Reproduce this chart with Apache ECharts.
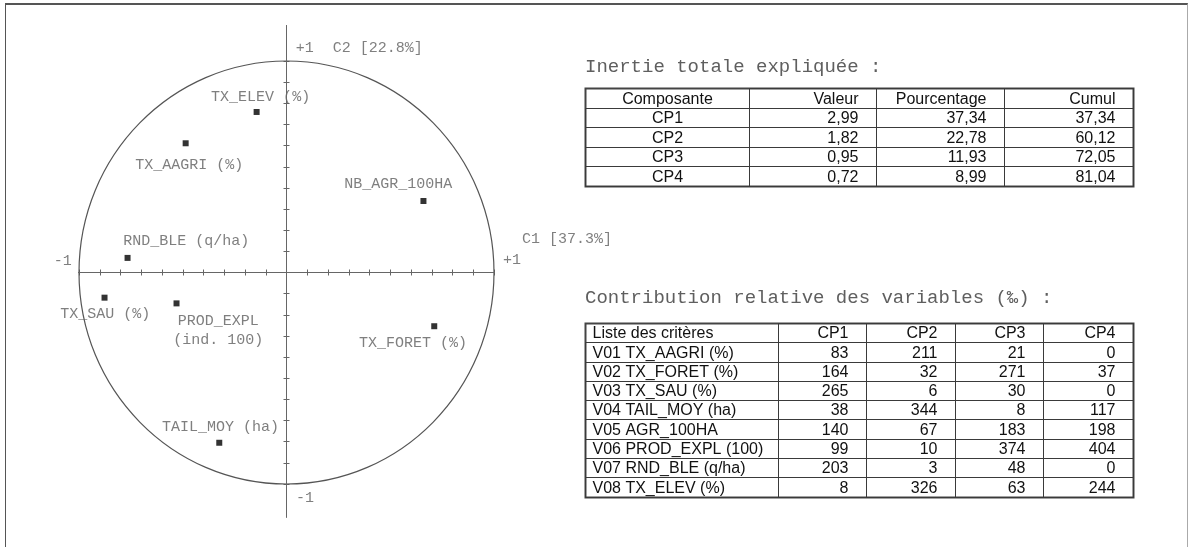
<!DOCTYPE html>
<html><head><meta charset="utf-8">
<script src="https://cdn.jsdelivr.net/npm/echarts@6/dist/echarts.min.js"></script>
<style>
html,body{margin:0;padding:0;background:#fff;overflow:hidden}
#chart{width:1189px;height:547px;position:absolute;left:0;top:0}
#frame{position:absolute;left:5px;top:3px;width:1181px;height:600px;border-left:1px solid #555;border-top:2px solid #555;border-right:1px solid #aaa;pointer-events:none}
</style></head><body>
<div id="chart"></div><div id="frame"></div>
<script>
// ---------------- data ----------------
const variableNames = ['TX_ELEV (%)','TX_AAGRI (%)','RND_BLE (q/ha)','NB_AGR_100HA','TX_SAU (%)','PROD_EXPL\n(ind. 100)','TAIL_MOY (ha)','TX_FORET (%)'];
const coordC1 = [-0.144,-0.486,-0.766,0.660,-0.877,-0.530,-0.324,0.712];
const coordC2 = [0.759,0.611,0.069,0.338,-0.119,-0.146,-0.805,-0.254];
const axisTitleC1 = 'C1 [37.3%]';
const axisTitleC2 = 'C2 [22.8%]';
const axisEndLabels = ['-1','+1','+1','-1'];
const axisEndPoints = [[-1,0],[1,0],[0,1],[0,-1]];

const inertieTitle = 'Inertie totale expliquée :';
const inertieHeaders = ['Composante','Valeur','Pourcentage','Cumul'];
const composantes = ['CP1','CP2','CP3','CP4'];
const valeurs = [2.99,1.82,0.95,0.72];
const pourcentages = [37.34,22.78,11.93,8.99];
const cumuls = [37.34,60.12,72.05,81.04];

const contribTitle = 'Contribution relative des variables (‰) :';
const contribHeaders = ['Liste des critères','CP1','CP2','CP3','CP4'];
const criteres = ['V01 TX_AAGRI (%)','V02 TX_FORET (%)','V03 TX_SAU (%)','V04 TAIL_MOY (ha)','V05 AGR_100HA','V06 PROD_EXPL (100)','V07 RND_BLE (q/ha)','V08 TX_ELEV (%)'];
const contribCP1 = [83,164,265,38,140,99,203,8];
const contribCP2 = [211,32,6,344,67,10,3,326];
const contribCP3 = [21,271,30,8,183,374,48,63];
const contribCP4 = [0,37,0,117,198,404,0,244];

// ---------------- layout / style ----------------
const MONO = '"Liberation Mono","Courier New",monospace';
const SANS = '"Liberation Sans",Arial,sans-serif';
const GREY = '#5f5f5f';
const labelOffsets = [[4,-14.5],[3.5,22],[58.6,-17],[-25.3,-16.7],[0.7,16.7],[41.8,27.4],[1.2,-16],[-21.2,16.4]];
const axisEndOffsets = [[-16.2,-11.8],[18,-12.5],[18.2,-12.7],[18.5,13.7]];
const titleC1Offset = [73,-33.5];
const titleC2Offset = [91.3,-13];
const AXIS_EXT = {xMin:-1.165, xMax:1.165, yMin:-1.16, yMax:1.17};
const table1Widths = [164,127,128,129];
const table2Widths = [193,88,89,88,90];

const fmt = v => v.toFixed(2).replace('.', ',');

// build table cells
const t1Cells = [];
inertieHeaders.forEach((h,c)=>t1Cells.push({col:c,row:0,text:h,align:c===0?'center':'right'}));
composantes.forEach((cp,i)=>{
  t1Cells.push({col:0,row:i+1,text:cp,align:'center'});
  t1Cells.push({col:1,row:i+1,text:fmt(valeurs[i]),align:'right'});
  t1Cells.push({col:2,row:i+1,text:fmt(pourcentages[i]),align:'right'});
  t1Cells.push({col:3,row:i+1,text:fmt(cumuls[i]),align:'right'});
});
const t2Cells = [];
contribHeaders.forEach((h,c)=>t2Cells.push({col:c,row:0,text:h,align:c===0?'left':'right'}));
criteres.forEach((cr,i)=>{
  t2Cells.push({col:0,row:i+1,text:cr,align:'left'});
  [contribCP1,contribCP2,contribCP3,contribCP4].forEach((arr,k)=>
    t2Cells.push({col:k+1,row:i+1,text:String(arr[i]),align:'right'}));
});

function tableSeries(axisIdx, cells, widths, nRows){
  const total = widths.reduce((a,b)=>a+b,0);
  const edges=[0]; widths.forEach(w=>edges.push(edges[edges.length-1]+w/total));
  const px = v => Math.round(v)+0.5;
  return {
    type:'custom', xAxisIndex:axisIdx, yAxisIndex:axisIdx, silent:true,
    data: cells.map(c=>[c.col,c.row]),
    renderItem(params, api){
      const cell = cells[params.dataIndex];
      const a = api.coord([edges[cell.col], cell.row]);
      const b = api.coord([edges[cell.col+1], cell.row+1]);
      const x0=px(a[0]), y0=px(a[1]), x1=px(b[0]), y1=px(b[1]);
      let tx, al;
      if (cell.align==='center'){tx=(x0+x1)/2; al='center';}
      else if (cell.align==='left'){tx=x0+7; al='left';}
      else {tx=x1-18; al='right';}
      const children=[
        {type:'rect', shape:{x:x0,y:y0,width:x1-x0,height:y1-y0}, style:{fill:null,stroke:'#3a3a3a',lineWidth:1}},
        {type:'text', style:{x:tx,y:(y0+y1)/2+1,text:cell.text,align:al,textAlign:al,verticalAlign:'middle',textVerticalAlign:'middle',font:'16px '+SANS,fill:'#111'}}
      ];
      if (params.dataIndex===0){
        const A=api.coord([0,0]), B=api.coord([1,nRows]);
        children.push({type:'rect', shape:{x:px(A[0]),y:px(A[1]),width:px(B[0])-px(A[0]),height:px(B[1])-px(A[1])}, style:{fill:null,stroke:'#444',lineWidth:2}});
      }
      return {type:'group', children};
    }
  };
}

const valAxisCommon = {type:'value', gridIndex:0, min:-1, max:1, interval:0.1,
  axisLine:{show:false, onZero:true, onZeroAxisIndex:0},
  axisTick:{show:true, length:3, lineStyle:{color:'#666', width:1}},
  axisLabel:{show:false}, splitLine:{show:false}};

const chart = echarts.init(document.getElementById('chart'), null, {renderer:'canvas'});
chart.setOption({
  animation:false,
  backgroundColor:'#fff',
  title:[
    {text:inertieTitle, left:585, top:57, padding:0, textStyle:{fontFamily:MONO,fontSize:19,fontWeight:'normal',color:GREY}},
    {text:contribTitle, left:585, top:288, padding:0, textStyle:{fontFamily:MONO,fontSize:19,fontWeight:'normal',color:GREY}}
  ],
  grid:[
    {left:79, top:61, width:415, height:423},
    {left:585, top:88, width:548, height:97.5},
    {left:585, top:323, width:548, height:173.5}
  ],
  xAxis:[
    Object.assign({}, valAxisCommon, {position:'bottom'}),
    Object.assign({}, valAxisCommon, {position:'top'}),
    {type:'value', gridIndex:1, min:0, max:1, show:false},
    {type:'value', gridIndex:2, min:0, max:1, show:false}
  ],
  yAxis:[
    Object.assign({}, valAxisCommon, {position:'left'}),
    Object.assign({}, valAxisCommon, {position:'right'}),
    {type:'value', gridIndex:1, min:0, max:5, inverse:true, show:false},
    {type:'value', gridIndex:2, min:0, max:9, inverse:true, show:false}
  ],
  series:[
    {type:'line', xAxisIndex:0, yAxisIndex:0, clip:false, silent:true, symbol:'none',
     data:[[AXIS_EXT.xMin,0],[AXIS_EXT.xMax,0]], lineStyle:{color:'#666',width:1}},
    {type:'line', xAxisIndex:0, yAxisIndex:0, clip:false, silent:true, symbol:'none',
     data:[[0,AXIS_EXT.yMax],[0,AXIS_EXT.yMin]], lineStyle:{color:'#666',width:1}},
    {type:'custom', xAxisIndex:0, yAxisIndex:0, silent:true, data:[[0,0]],
     renderItem(params, api){
       const c = api.coord([0,0]); const s = api.size([1,1]);
       return {type:'ellipse', shape:{cx:c[0],cy:c[1],rx:s[0],ry:s[1]}, style:{fill:null,stroke:'#555',lineWidth:1.2}};
     }},
    {type:'scatter', xAxisIndex:0, yAxisIndex:0, symbol:'rect', symbolSize:6, silent:true,
     itemStyle:{color:'#000'},
     data: coordC1.map((x,i)=>({value:[x,coordC2[i]], name:variableNames[i], label:{offset:labelOffsets[i]}})),
     label:{show:true, position:'inside', formatter:'{b}', fontFamily:MONO, fontSize:15, lineHeight:19,
       color:GREY, align:'center', verticalAlign:'middle', textBorderWidth:0}},
    {type:'scatter', xAxisIndex:0, yAxisIndex:0, symbol:'circle', symbolSize:1, silent:true,
     itemStyle:{color:'rgba(0,0,0,0)'},
     data: axisEndPoints.map((p,i)=>({value:p, name:axisEndLabels[i], label:{offset:axisEndOffsets[i]}}))
       .concat([{value:[1,0], name:axisTitleC1, label:{offset:titleC1Offset}},
                {value:[0,1], name:axisTitleC2, label:{offset:titleC2Offset}}]),
     label:{show:true, position:'inside', formatter:'{b}', fontFamily:MONO, fontSize:15,
       color:GREY, align:'center', verticalAlign:'middle', textBorderWidth:0}},
    tableSeries(2, t1Cells, table1Widths, 5),
    tableSeries(3, t2Cells, table2Widths, 9)
  ]
});
</script>
</body></html>
